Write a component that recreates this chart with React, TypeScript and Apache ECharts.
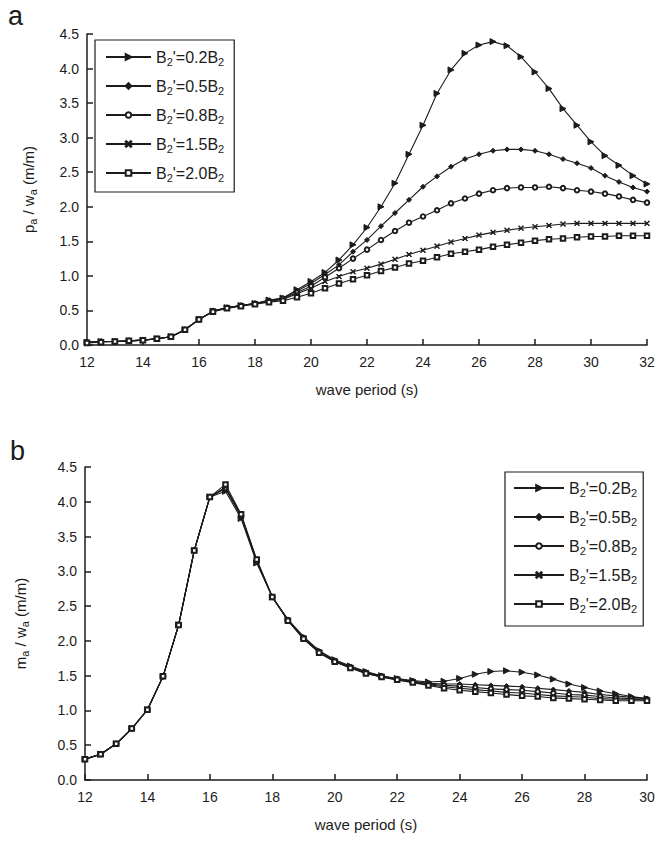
import React, { useEffect, useRef } from "react";
import * as echarts from "echarts";

// ---- data ----
const periodA = [12, 12.5, 13, 13.5, 14, 14.5, 15, 15.5, 16, 16.5, 17, 17.5, 18, 18.5, 19, 19.5, 20, 20.5, 21, 21.5, 22, 22.5, 23, 23.5, 24, 24.5, 25, 25.5, 26, 26.5, 27, 27.5, 28, 28.5, 29, 29.5, 30, 30.5, 31, 31.5, 32];
const a02 = [0.04, 0.05, 0.05, 0.06, 0.07, 0.09, 0.12, 0.22, 0.37, 0.49, 0.54, 0.57, 0.60, 0.65, 0.68, 0.80, 0.92, 1.05, 1.23, 1.45, 1.70, 2.00, 2.34, 2.76, 3.18, 3.64, 3.98, 4.22, 4.34, 4.39, 4.33, 4.17, 3.95, 3.71, 3.42, 3.18, 2.94, 2.74, 2.60, 2.45, 2.33];
const a05 = [0.04, 0.05, 0.05, 0.06, 0.07, 0.09, 0.12, 0.22, 0.37, 0.49, 0.54, 0.57, 0.60, 0.64, 0.68, 0.78, 0.89, 1.02, 1.16, 1.35, 1.52, 1.72, 1.91, 2.10, 2.29, 2.44, 2.58, 2.69, 2.76, 2.81, 2.83, 2.83, 2.81, 2.76, 2.69, 2.63, 2.56, 2.45, 2.36, 2.28, 2.22];
const a08 = [0.04, 0.05, 0.05, 0.06, 0.07, 0.09, 0.12, 0.22, 0.37, 0.49, 0.54, 0.57, 0.60, 0.64, 0.67, 0.76, 0.85, 0.98, 1.11, 1.25, 1.38, 1.52, 1.65, 1.77, 1.86, 1.95, 2.05, 2.12, 2.19, 2.24, 2.27, 2.28, 2.28, 2.29, 2.27, 2.24, 2.22, 2.19, 2.15, 2.10, 2.06];
const a15 = [0.04, 0.05, 0.05, 0.06, 0.07, 0.09, 0.12, 0.22, 0.37, 0.49, 0.54, 0.57, 0.60, 0.63, 0.66, 0.74, 0.82, 0.92, 0.99, 1.06, 1.11, 1.17, 1.24, 1.31, 1.37, 1.43, 1.49, 1.54, 1.59, 1.63, 1.66, 1.69, 1.71, 1.73, 1.75, 1.76, 1.76, 1.76, 1.76, 1.76, 1.76];
const a20 = [0.03, 0.04, 0.05, 0.06, 0.07, 0.09, 0.12, 0.22, 0.37, 0.48, 0.53, 0.56, 0.59, 0.62, 0.64, 0.69, 0.75, 0.82, 0.89, 0.95, 1.01, 1.07, 1.12, 1.18, 1.22, 1.27, 1.32, 1.35, 1.38, 1.42, 1.45, 1.48, 1.51, 1.53, 1.54, 1.56, 1.57, 1.57, 1.58, 1.58, 1.58];

const periodB = [12, 12.5, 13, 13.5, 14, 14.5, 15, 15.5, 16, 16.5, 17, 17.5, 18, 18.5, 19, 19.5, 20, 20.5, 21, 21.5, 22, 22.5, 23, 23.5, 24, 24.5, 25, 25.5, 26, 26.5, 27, 27.5, 28, 28.5, 29, 29.5, 30];
const b02 = [0.30, 0.37, 0.52, 0.74, 1.01, 1.49, 2.23, 3.30, 4.07, 4.15, 3.76, 3.12, 2.63, 2.31, 2.06, 1.86, 1.73, 1.64, 1.56, 1.50, 1.46, 1.43, 1.41, 1.42, 1.46, 1.52, 1.56, 1.57, 1.55, 1.51, 1.45, 1.38, 1.33, 1.28, 1.24, 1.20, 1.17];
const b05 = [0.30, 0.37, 0.52, 0.74, 1.01, 1.49, 2.23, 3.30, 4.07, 4.19, 3.79, 3.14, 2.63, 2.30, 2.05, 1.85, 1.72, 1.63, 1.55, 1.49, 1.45, 1.42, 1.39, 1.38, 1.38, 1.37, 1.36, 1.35, 1.34, 1.32, 1.30, 1.28, 1.26, 1.23, 1.21, 1.19, 1.17];
const b08 = [0.30, 0.37, 0.52, 0.74, 1.01, 1.49, 2.23, 3.30, 4.07, 4.20, 3.80, 3.15, 2.63, 2.30, 2.04, 1.84, 1.71, 1.62, 1.54, 1.49, 1.45, 1.42, 1.38, 1.36, 1.35, 1.33, 1.31, 1.30, 1.29, 1.27, 1.25, 1.23, 1.22, 1.20, 1.18, 1.17, 1.16];
const b15 = [0.30, 0.37, 0.52, 0.74, 1.01, 1.49, 2.23, 3.30, 4.07, 4.21, 3.81, 3.16, 2.63, 2.29, 2.03, 1.83, 1.70, 1.61, 1.53, 1.48, 1.44, 1.41, 1.37, 1.34, 1.32, 1.30, 1.28, 1.26, 1.25, 1.23, 1.21, 1.20, 1.19, 1.17, 1.16, 1.16, 1.15];
const b20 = [0.30, 0.37, 0.52, 0.74, 1.01, 1.49, 2.23, 3.30, 4.07, 4.25, 3.82, 3.17, 2.63, 2.29, 2.03, 1.83, 1.70, 1.61, 1.53, 1.48, 1.44, 1.40, 1.36, 1.32, 1.29, 1.27, 1.25, 1.23, 1.21, 1.20, 1.18, 1.17, 1.16, 1.15, 1.14, 1.14, 1.14];

const seriesNames = ["B2'=0.2B2", "B2'=0.5B2", "B2'=0.8B2", "B2'=1.5B2", "B2'=2.0B2"];
const xTicksA = { min: 12, max: 32, step: 2 };
const xTicksB = { min: 12, max: 30, step: 2 };
const yTicks = { min: 0, max: 4.5, step: 0.5 };

const FONT = "Liberation Sans, Arial, sans-serif";
const INK = "#1c1c1c";

const crossPath = "path://M0,1L1,0L5,4L9,0L10,1L6,5L10,9L9,10L5,6L1,10L0,9L4,5Z";
const symbols = [
  { symbol: "triangle", size: 6, rotate: -90 },
  { symbol: "diamond", size: 5, rotate: 0 },
  { symbol: "emptyCircle", size: 4.5, rotate: 0 },
  { symbol: crossPath, size: 5, rotate: 0 },
  { symbol: "emptyRect", size: 4.5, rotate: 0 },
];

const subRich = {
  s: { fontSize: 11, lineHeight: 8, verticalAlign: "top", padding: [7, 0, 0, 0], fontFamily: FONT, color: INK },
};

function fmtLegend(name: string) {
  return name.replace(/B2/g, "B{s|2}");
}

export default function App() {
  const ref = useRef<HTMLDivElement>(null);
  useEffect(() => {
    if (!ref.current) return;
    const chart = echarts.init(ref.current, null, { renderer: "svg" });

    const axisCommonX = (t: { min: number; max: number; step: number }, gi: number) => ({
      type: "value",
      gridIndex: gi,
      min: t.min,
      max: t.max,
      interval: t.step,
      name: "wave period (s)",
      nameLocation: "middle",
      nameGap: 37,
      nameTextStyle: { fontFamily: FONT, fontSize: 15, color: INK },
      axisLine: { show: true, lineStyle: { color: INK, width: 1.5 } },
      axisTick: { show: true, inside: true, length: 6, lineStyle: { color: INK, width: 1.5 } },
      axisLabel: { fontFamily: FONT, fontSize: 14, color: INK, margin: 10 },
      splitLine: { show: false },
    });

    const axisCommonY = (gi: number, letter: string, gap: number) => ({
      type: "value",
      gridIndex: gi,
      min: yTicks.min,
      max: yTicks.max,
      interval: yTicks.step,
      name: `${letter}{s|a} / w{s|a} (m/m)`,
      nameLocation: "middle",
      nameGap: gap,
      nameRotate: 90,
      nameTextStyle: {
        fontFamily: FONT,
        fontSize: 15,
        lineHeight: 18,
        color: INK,
        rich: { s: { fontSize: 11, lineHeight: 8, verticalAlign: "top", padding: [8, 0, 0, 0], fontFamily: FONT, color: INK } },
      },
      axisLine: { show: true, lineStyle: { color: INK, width: 1.5 } },
      axisTick: { show: true, inside: true, length: 6, lineStyle: { color: INK, width: 1.5 } },
      axisLabel: {
        fontFamily: FONT,
        fontSize: 14,
        color: INK,
        margin: 8,
        formatter: (v: number) => v.toFixed(1),
      },
      splitLine: { show: false },
    });

    const mk = (name: string, xs: number[], ys: number[], idx: number, gi: number) => ({
      type: "line",
      name,
      xAxisIndex: gi,
      yAxisIndex: gi,
      data: xs.map((x, i) => [x, ys[i]]),
      symbol: symbols[idx].symbol,
      symbolSize: symbols[idx].size,
      symbolRotate: symbols[idx].rotate,
      showSymbol: true,
      lineStyle: { color: INK, width: 1.1 },
      itemStyle: { color: INK, borderColor: INK, borderWidth: 1 },
      emphasis: { disabled: true },
    });

    const aSeries = [a02, a05, a08, a15, a20];
    const bSeries = [b02, b05, b08, b15, b20];

    const legendCommon = {
      orient: "vertical",
      data: seriesNames,
      itemWidth: 45,
      itemHeight: 7,
      itemGap: 11,
      itemTextGap: 5,
      borderColor: INK,
      borderWidth: 1.2,
      selectedMode: false,
      formatter: fmtLegend,
      textStyle: { fontFamily: FONT, fontSize: 16, lineHeight: 16, color: INK, rich: subRich },
    };

    chart.setOption({
      animation: false,
      backgroundColor: "#ffffff",
      grid: [
        { left: 87, top: 34, width: 560, height: 311, containLabel: false },
        { left: 85, top: 467, width: 562, height: 313, containLabel: false },
      ],
      xAxis: [axisCommonX(xTicksA, 0), axisCommonX(xTicksB, 1)],
      yAxis: [axisCommonY(0, "p", 50), axisCommonY(1, "m", 56)],
      legend: [
        { ...legendCommon, left: 95, top: 40, padding: [9, 10, 9, 10] },
        { ...legendCommon, left: 505, top: 472, itemWidth: 50, itemTextGap: 4, padding: [8, 6, 12, 8] },
      ],
      graphic: [
        { type: "text", left: 8, top: 2, style: { text: "a", fontFamily: FONT, fontSize: 27, fill: INK } },
        { type: "text", left: 10, top: 437, style: { text: "b", fontFamily: FONT, fontSize: 27, fill: INK } },
      ],
      series: [
        ...aSeries.map((ys, i) => mk(seriesNames[i], periodA, ys, i, 0)),
        ...bSeries.map((ys, i) => mk(seriesNames[i], periodB, ys, i, 1)),
      ],
    });
    return () => chart.dispose();
  }, []);
  return (
    <div
      ref={ref}
      style={{ position: "absolute", left: 0, top: 0, width: 672, height: 843, background: "#fff" }}
    />
  );
}
